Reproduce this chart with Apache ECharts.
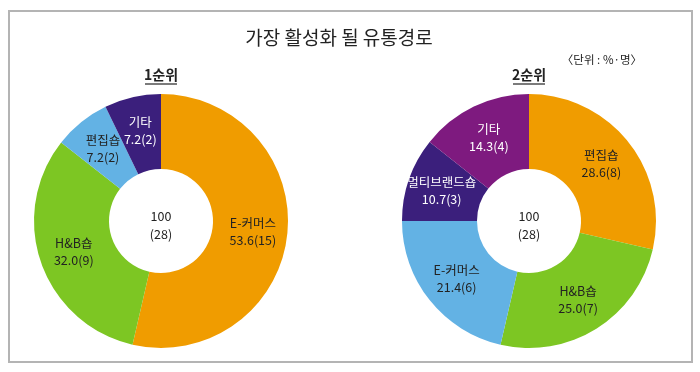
<!DOCTYPE html>
<html>
<head>
<meta charset="utf-8">
<script src="https://cdn.jsdelivr.net/npm/echarts@6/dist/echarts.min.js"></script>
<style>
html,body{margin:0;padding:0;background:#fff;}
#c{width:700px;height:372px;}
</style>
</head>
<body>
<div id="c"></div>
<script>
var titleText = '가장 활성화 될 유통경로';
var unitText = '〈단위 : %·명〉';
var rank1Title = '1순위';
var rank2Title = '2순위';

var categories1 = ['E-커머스', 'H&B숍', '편집숍', '기타'];
var values1 = [53.6, 32.0, 7.2, 7.2];
var counts1 = [15, 9, 2, 2];
var colors1 = ['#F09C00', '#7DC623', '#63B2E4', '#3B1F7C'];
var textColors1 = ['#222', '#222', '#222', '#fff'];

var categories2 = ['편집숍', 'H&B숍', 'E-커머스', '멀티브랜드숍', '기타'];
var values2 = [28.6, 25.0, 21.4, 10.7, 14.3];
var counts2 = [8, 7, 6, 3, 4];
var colors2 = ['#F09C00', '#7DC623', '#63B2E4', '#3B1F7C', '#7E1A7F'];
var textColors2 = ['#222', '#222', '#222', '#fff', '#fff'];

var FONT = '"Noto Sans CJK KR", "Noto Sans", sans-serif';

function buildData(cats, vals, cnts, cols, tcols) {
  return cats.map(function (c, i) {
    return {
      name: c,
      value: vals[i],
      count: cnts[i],
      itemStyle: { color: cols[i] },
      label: { color: tcols[i] }
    };
  });
}
function sum(a) { return a.reduce(function (s, v) { return s + v; }, 0); }

var c1 = [161, 221], c2 = [529, 221];
var chart = echarts.init(document.getElementById('c'), null, { renderer: 'canvas' });

function pieSeries(center, data) {
  return {
    type: 'pie',
    center: center,
    radius: [52, 127],
    startAngle: 90,
    clockwise: true,
    avoidLabelOverlap: false,
    silent: true,
    animation: false,
    itemStyle: { borderWidth: 0 },
    label: {
      show: true,
      position: 'inside',
      fontFamily: FONT,
      fontSize: 12.5,
      lineHeight: 17,
      formatter: function (p) {
        return p.name + '\n' + p.value.toFixed(1) + '(' + p.data.count + ')';
      }
    },
    labelLine: { show: false },
    data: data
  };
}

var option = {
  backgroundColor: '#fff',
  series: [
    pieSeries(c1, buildData(categories1, values1, counts1, colors1, textColors1)),
    pieSeries(c2, buildData(categories2, values2, counts2, colors2, textColors2))
  ],
  graphic: [
    { type: 'rect', shape: { x: 9, y: 11, width: 683, height: 351 }, style: { fill: 'none', stroke: '#b4b4b4', lineWidth: 2 } },
    { type: 'text', x: 339, y: 38, style: { text: titleText, font: '19px ' + FONT, fill: '#222', textAlign: 'center', textVerticalAlign: 'middle' } },
    { type: 'text', x: 642, y: 60, style: { text: unitText, font: '11.5px ' + FONT, fill: '#222', textAlign: 'right', textVerticalAlign: 'middle' } },
    { type: 'text', x: 161, y: 75, style: { text: rank1Title, font: 'bold 14px ' + FONT, fill: '#222', textAlign: 'center', textVerticalAlign: 'middle' } },
    { type: 'line', shape: { x1: 145, y1: 84, x2: 177, y2: 84 }, style: { stroke: '#222', lineWidth: 1.2 } },
    { type: 'text', x: 529, y: 75, style: { text: rank2Title, font: 'bold 14px ' + FONT, fill: '#222', textAlign: 'center', textVerticalAlign: 'middle' } },
    { type: 'line', shape: { x1: 513, y1: 84, x2: 545, y2: 84 }, style: { stroke: '#222', lineWidth: 1.2 } },
    { type: 'text', x: c1[0], y: c1[1] + 4, style: { text: Math.round(sum(values1)) + '\n(' + sum(counts1) + ')', font: '12.5px ' + FONT, fill: '#222', textAlign: 'center', textVerticalAlign: 'middle', lineHeight: 18 } },
    { type: 'text', x: c2[0], y: c2[1] + 4, style: { text: Math.round(sum(values2)) + '\n(' + sum(counts2) + ')', font: '12.5px ' + FONT, fill: '#222', textAlign: 'center', textVerticalAlign: 'middle', lineHeight: 18 } }
  ]
};
chart.setOption(option);
</script>
</body>
</html>
